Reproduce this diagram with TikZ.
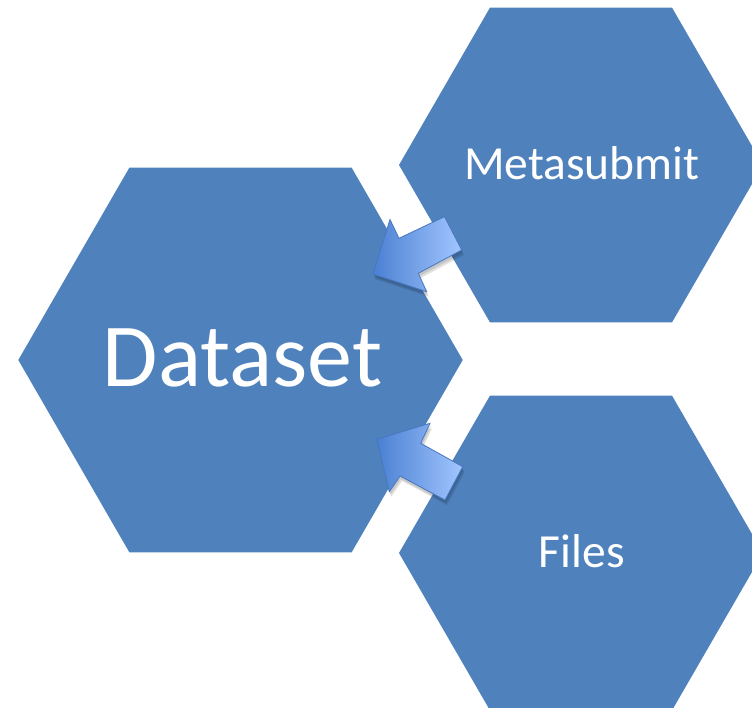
\documentclass[tikz,border=0pt]{standalone}
\usepackage{fontspec}
\setmainfont{Carlito}
\definecolor{hexblue}{HTML}{4F81BD}
\definecolor{arrdark}{HTML}{4A80D2}
\definecolor{arrlight}{HTML}{A2C6FF}
\definecolor{arredge}{HTML}{4877C0}
\begin{document}
\begin{tikzpicture}[x=1pt,y=-1pt,
  hexagon/.style={fill=hexblue},
  label/.style={text=white,inner sep=0pt,anchor=base},
  blockarrow/.style={left color=arrdark,right color=arrlight,draw=arredge,line width=0.8pt,line join=miter},
  arrshadow/.style={fill=black,opacity=0.12}]
\useasboundingbox (0,0) rectangle (752,708);
\clip (0,0) rectangle (752,708);
% hexagons
\fill[hexagon] (462.7,360) -- (351.6,167.6) -- (129.4,167.6) -- (18.3,360) -- (129.4,552.4) -- (351.6,552.4) -- cycle;
\fill[hexagon] (763,165) -- (672,7.6) -- (490,7.6) -- (399,165) -- (490,322.4) -- (672,322.4) -- cycle;
\fill[hexagon] (763,553) -- (672,395.6) -- (490,395.6) -- (399,553) -- (490,710.4) -- (672,710.4) -- cycle;
% labels
\node[label,font=\fontsize{90}{90}\selectfont] (dataset) at (242.5,386) {Dataset};
\node[label,font=\fontsize{47.5}{47.5}\selectfont] (meta) at (581.7,179.8) {Metasubmit};
\node[label,font=\fontsize{47.5}{47.5}\selectfont] (files) at (581.7,567) {Files};
% arrow shadows
\foreach \dx/\dy in {1/3,2/5}{
\fill[arrshadow,shift={(\dx,\dy)}] (372.9,274) -- (390,219.5) -- (399,238.3) -- (444.5,216.7) -- (461.7,250) -- (418.3,273.3) -- (426.7,291.7) -- cycle;
\fill[arrshadow,shift={(\dx,\dy)}] (376.7,439.3) -- (430,423.3) -- (420.7,443.3) -- (462.7,466.7) -- (445,500) -- (400,476) -- (389.3,491.7) -- cycle;
}
% arrows
\shadedraw[blockarrow] (372.9,274) coordinate (tipA) -- (390,219.5) -- (399,238.3) -- (444.5,216.7) -- (461.7,250) -- (418.3,273.3) -- (426.7,291.7) -- cycle;
\shadedraw[blockarrow] (376.7,439.3) coordinate (tipB) -- (430,423.3) -- (420.7,443.3) -- (462.7,466.7) -- (445,500) -- (400,476) -- (389.3,491.7) -- cycle;
\end{tikzpicture}
\end{document}
